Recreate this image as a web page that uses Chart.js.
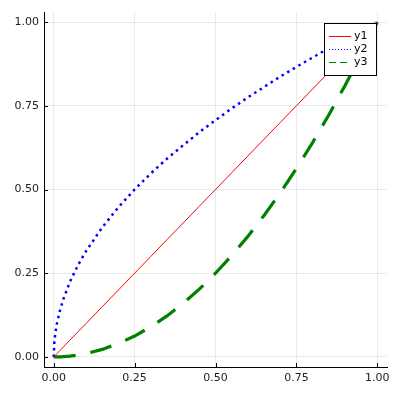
<!DOCTYPE html>
<html>
<head>
<meta charset="utf-8">
<script src="https://cdn.jsdelivr.net/npm/chart.js@4"></script>
<style>
  html, body { margin: 0; padding: 0; background: #fff; }
  #wrap { width: 399px; height: 400px; }
</style>
</head>
<body>
<div id="wrap"><canvas id="chart"></canvas></div>
<script>
/* values */
var xValues = [0, 0.002, 0.005, 0.01, 0.02, 0.03, 0.05, 0.075, 0.1, 0.15, 0.2, 0.25, 0.3, 0.35, 0.4,
  0.45, 0.5, 0.55, 0.6, 0.65, 0.7, 0.75, 0.8, 0.85, 0.9, 0.95, 1.0];
var y1Values = [0, 0.002, 0.005, 0.01, 0.02, 0.03, 0.05, 0.075, 0.1, 0.15, 0.2, 0.25, 0.3, 0.35, 0.4,
  0.45, 0.5, 0.55, 0.6, 0.65, 0.7, 0.75, 0.8, 0.85, 0.9, 0.95, 1.0];
var y2Values = [0, 0.045, 0.071, 0.1, 0.141, 0.173, 0.224, 0.274, 0.316, 0.387, 0.447, 0.5, 0.548, 0.592, 0.632,
  0.671, 0.707, 0.742, 0.775, 0.806, 0.837, 0.866, 0.894, 0.922, 0.949, 0.975, 1.0];
var y3Values = [0, 0, 0, 0, 0.0004, 0.001, 0.0025, 0.0056, 0.01, 0.0225, 0.04, 0.0625, 0.09, 0.1225, 0.16,
  0.2025, 0.25, 0.3025, 0.36, 0.4225, 0.49, 0.5625, 0.64, 0.7225, 0.81, 0.9025, 1.0];
var seriesNames = ['y1', 'y2', 'y3'];
var tickValues = [0, 0.25, 0.5, 0.75, 1.0];
var tickLabels = ['0.00', '0.25', '0.50', '0.75', '1.00'];

function toPoints(ys) {
  return xValues.map(function (x, i) { return { x: x, y: ys[i] }; });
}

/* short tick marks drawn inside the axes, like the original */
const innerTicks = {
  id: 'innerTicks',
  afterDraw(chart) {
    const ctx = chart.ctx;
    const area = chart.chartArea;
    const xs = chart.scales.x, ys = chart.scales.y;
    ctx.save();
    ctx.strokeStyle = '#000';
    ctx.lineWidth = 1;
    ctx.beginPath();
    tickValues.forEach(function (v) {
      var px = Math.round(xs.getPixelForValue(v)) + 0.5;
      ctx.moveTo(px, area.bottom);
      ctx.lineTo(px, area.bottom - 4);
      var py = Math.round(ys.getPixelForValue(v)) + 0.5;
      ctx.moveTo(area.left, py);
      ctx.lineTo(area.left + 4, py);
    });
    ctx.stroke();
    ctx.restore();
  }
};

/* legend box sitting inside the top right corner */
const cornerLegend = {
  id: 'cornerLegend',
  afterDatasetsDraw(chart) {
    const ctx = chart.ctx;
    const area = chart.chartArea;
    const w = 52, h = 52;
    const left = area.right - 11 - w, top = area.top + 11;
    ctx.save();
    ctx.fillStyle = '#fff';
    ctx.fillRect(left, top, w, h);
    ctx.strokeStyle = '#000';
    ctx.lineWidth = 1;
    ctx.setLineDash([]);
    ctx.strokeRect(left + 0.5, top + 0.5, w, h);
    ctx.font = '11px "DejaVu Sans"';
    ctx.textBaseline = 'middle';
    chart.data.datasets.forEach(function (ds, i) {
      var y = top + 13 + i * 13;
      ctx.strokeStyle = ds.borderColor;
      ctx.lineWidth = i === 0 ? 1 : 1.2;
      ctx.setLineDash(i === 1 ? [1, 2] : i === 2 ? [7, 4] : []);
      ctx.beginPath();
      ctx.moveTo(left + 5, y + 0.5);
      ctx.lineTo(left + 27, y + 0.5);
      ctx.stroke();
      ctx.setLineDash([]);
      ctx.fillStyle = '#000';
      ctx.fillText(ds.label, left + 30, y);
    });
    ctx.restore();
  }
};

function axisOptions(size) {
  return {
    type: 'linear',
    min: -0.03,
    max: 1.03,
    afterBuildTicks: function (scale) {
      scale.ticks = tickValues.map(function (v) { return { value: v }; });
    },
    afterFit: function (scale) {
      if (scale.isHorizontal()) scale.height = size; else scale.width = size;
    },
    ticks: {
      color: '#222',
      font: { family: 'DejaVu Sans', size: 11 },
      padding: 5,
      maxRotation: 0,
      callback: function (v) {
        var i = tickValues.indexOf(v);
        return i >= 0 ? tickLabels[i] : '';
      }
    },
    grid: { color: 'rgba(0,0,0,0.08)', lineWidth: 1, drawTicks: false },
    border: { color: '#000', width: 1 }
  };
}

const chartElement = document.getElementById('chart').getContext('2d');
new Chart(chartElement, {
  type: 'scatter',
  data: {
    datasets: [{
      label: seriesNames[0],
      data: toPoints(y1Values),
      showLine: true,
      borderColor: '#ff0000',
      borderWidth: 1,
      pointRadius: 0
    }, {
      label: seriesNames[1],
      data: toPoints(y2Values),
      showLine: true,
      borderColor: '#0000ff',
      borderWidth: 2.5,
      borderDash: [2.5, 4],
      pointRadius: 0
    }, {
      label: seriesNames[2],
      data: toPoints(y3Values),
      showLine: true,
      borderColor: '#008000',
      borderWidth: 3.2,
      borderDash: [22, 15],
      pointRadius: 0
    }]
  },
  options: {
    responsive: true,
    maintainAspectRatio: false,
    animation: false,
    layout: { padding: { top: 12, right: 12, left: 0, bottom: 0 } },
    scales: {
      x: axisOptions(33),
      y: axisOptions(44)
    },
    plugins: {
      legend: { display: false },
      tooltip: { enabled: false }
    }
  },
  plugins: [innerTicks, cornerLegend]
});
</script>
</body>
</html>
